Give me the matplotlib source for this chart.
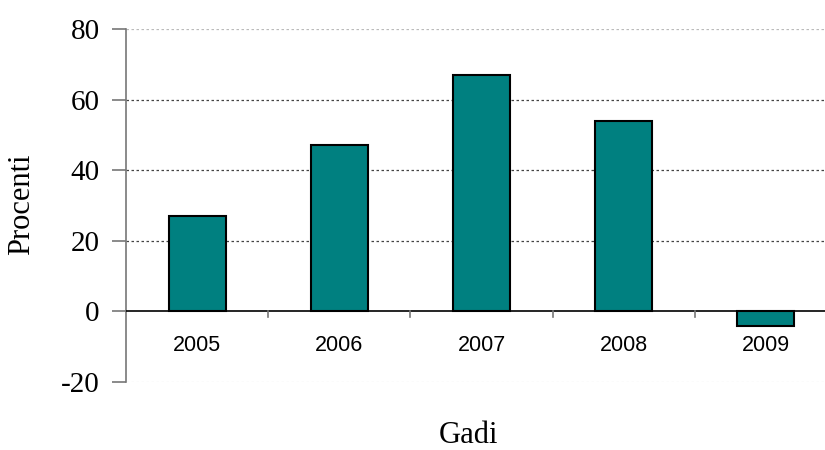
import numpy as np
import matplotlib.pyplot as plt
from matplotlib import transforms

# data
years = ['2005', '2006', '2007', '2008', '2009']
values = [27, 47, 67, 54, -4]
y_ticks = [-20, 0, 20, 40, 60, 80]

W, H = 825, 450
fig = plt.figure(figsize=(W / 100, H / 100), dpi=100)

# plot area (pixels): left 126, top 29 (=80), bottom 382 (=-20), categories 142 px wide
left, right = 126, 837
top, bottom = 29, 382
ax = fig.add_axes([left / W, 1 - bottom / H, (right - left) / W, (bottom - top) / H])

x = np.arange(len(years))
ax.bar(x, values, width=0.4, color='#008080', edgecolor='black', linewidth=1.5, zorder=3)

ax.set_xlim(-0.5, len(years) - 0.5)
ax.set_ylim(-20, 80)

# gridlines
for yv in y_ticks[2:]:
    col = '#bbbbbb' if yv == 80 else '#444444'
    ax.axhline(yv, color=col, linestyle=(0, (2, 2)), linewidth=0.9, zorder=1)
ax.axhline(-20, color='#e0e0e0', linestyle=(0, (2, 2)), linewidth=0.9, zorder=1)

# zero axis line with category separator ticks
ax.axhline(0, color='black', linewidth=1.2, zorder=4)
for b in np.arange(0.5, len(years) - 1, 1.0):
    ax.plot([b, b], [0, -1.6], color='#777777', linewidth=1.2, zorder=4, clip_on=False)

for s in ['top', 'right', 'bottom']:
    ax.spines[s].set_visible(False)
ax.spines['left'].set_color('#777777')
ax.spines['left'].set_linewidth(1.2)

ax.set_xticks([])
ax.set_yticks(y_ticks)
ax.set_yticklabels([str(v) for v in y_ticks], fontfamily='Liberation Serif', fontsize=21)
ax.tick_params(axis='y', direction='out', length=10, width=1.2, color='#777777', pad=9)

# category labels just below the zero line
trans = transforms.blended_transform_factory(ax.transData, ax.transData)
for xi, lab in zip(x, years):
    ax.text(xi, -11.3, lab, ha='center', va='baseline', fontfamily='Liberation Sans',
            fontsize=15.5, transform=trans)

fig.text(22 / W, 1 - 204 / H, 'Procenti', rotation=90, ha='center', va='center',
         fontfamily='Liberation Serif', fontsize=22)
fig.text(468 / W, 1 - 443 / H, 'Gadi', ha='center', va='baseline',
         fontfamily='Liberation Serif', fontsize=22)

fig.savefig('out.png', dpi=100)
